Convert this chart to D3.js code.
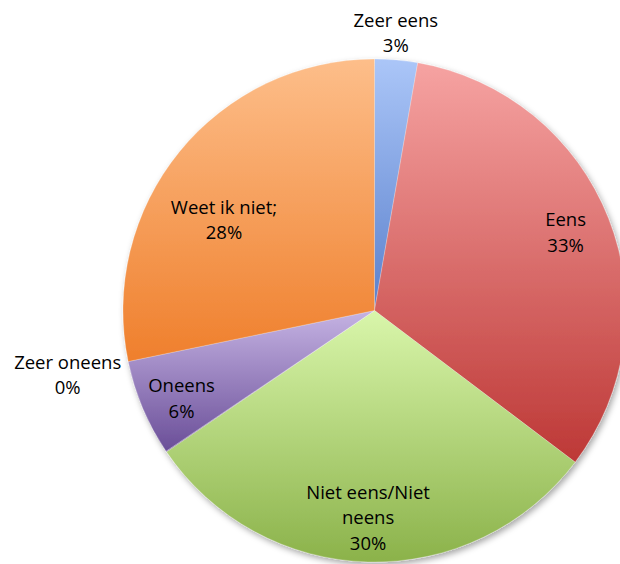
<!DOCTYPE html>
<html><head><meta charset="utf-8">
<script src="https://cdn.jsdelivr.net/npm/d3@7"></script>
<style>body{margin:0;background:#fff}svg{display:block}</style>
</head><body>
<svg id="chart" width="620" height="564"></svg>
<script>
const categories = ["Zeer eens","Eens","Niet eens/Niet neens","Zeer oneens","Oneens","Weet ik niet"];
const values = [2.75, 32.55, 30.2, 0.05, 6.2, 28.25];
const labelLines = [["Zeer eens","3%"],["Eens","33%"],["Niet eens/Niet","neens","30%"],["Zeer oneens","0%"],["Oneens","6%"],["Weet ik niet;","28%"]];
const colorsTop = ["#abc6f8","#f6a3a2","#d9f6ab","#c5b3e3","#fdbe8a"];
const colorsBottom = ["#5a80cc","#bd3836","#8bb24a","#6a4e98","#ef7f2c"];
const sliceColorIdx = [0,1,2,3,3,4];
// label placement: [radius factor, angle offset (deg)]
const labelPlace = [[1.09,-0.5],[0.815,0.3],[0.84,0.3],[1.25,21.5],[0.85,-2.6],[0.69,-9.3]];

const W=620,H=564, cx=374.5, cy=310.5, R=251.5;
const svg=d3.select("#chart");
const defs=svg.append("defs");
const filt=defs.append("filter").attr("id","sh").attr("x","-10%").attr("y","-10%").attr("width","130%").attr("height","130%");
filt.append("feDropShadow").attr("dx",2).attr("dy",3).attr("stdDeviation",3).attr("flood-color","#000").attr("flood-opacity",0.35);
categories.forEach((c,i)=>{
  const k=sliceColorIdx[i];
  const g=defs.append("linearGradient").attr("id","g"+i).attr("x1",0).attr("y1",0).attr("x2",0).attr("y2",1);
  g.append("stop").attr("offset","0%").attr("stop-color",colorsTop[k]);
  g.append("stop").attr("offset","100%").attr("stop-color",colorsBottom[k]);
});
const pie=d3.pie().sort(null).value(d=>d)(values);
const arc=d3.arc().innerRadius(0).outerRadius(R);
const g=svg.append("g").attr("transform",`translate(${cx},${cy})`);
const pg=g.append("g").attr("filter","url(#sh)");
pg.selectAll("path").data(pie).join("path")
  .attr("d",arc).attr("fill",(d,i)=>`url(#g${i})`)
  .attr("stroke","#fff").attr("stroke-width",0.4).attr("stroke-opacity",0.6);
const lh=25.5;
pie.forEach((d,i)=>{
  const [rf,off]=labelPlace[i];
  const a=(d.startAngle+d.endAngle)/2 + off*Math.PI/180;
  const x=Math.sin(a)*R*rf, y=-Math.cos(a)*R*rf;
  const lines=labelLines[i];
  const t=g.append("text").attr("text-anchor","middle")
    .attr("font-family","Open Sans, sans-serif").attr("font-size",18.5).attr("fill","#000");
  lines.forEach((ln,j)=>{
    t.append("tspan").attr("x",x).attr("y",y + (j-(lines.length-1)/2)*lh + 2.5).text(ln);
  });
});
</script>
</body></html>
